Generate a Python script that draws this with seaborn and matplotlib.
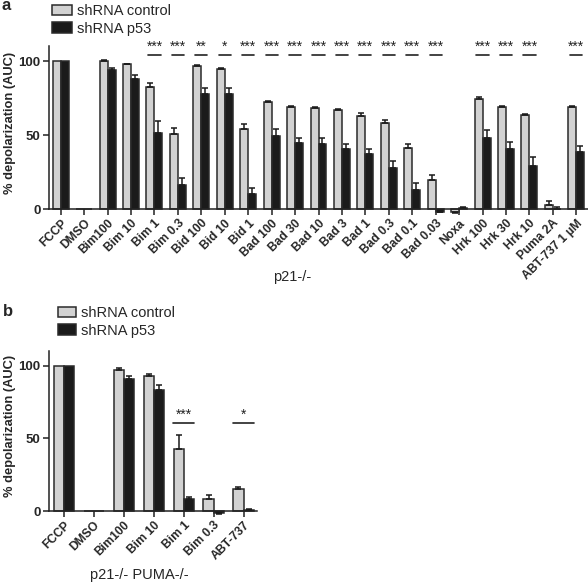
import numpy as np
import pandas as pd
import matplotlib
matplotlib.use("Agg")
import matplotlib.pyplot as plt
from matplotlib.patches import Patch
import seaborn as sns

# ---------------- data: panel a (p21-/-) ----------------
categories_a = ["FCCP", "DMSO", "Bim100", "Bim 10", "Bim 1", "Bim 0.3", "Bid 100", "Bid 10",
                "Bid 1", "Bad 100", "Bad 30", "Bad 10", "Bad 3", "Bad 1", "Bad 0.3", "Bad 0.1",
                "Bad 0.03", "Noxa", "Hrk 100", "Hrk 30", "Hrk 10", "Puma 2A", "ABT-737 1 µM"]
control_a = [100, 0, 100, 97.7, 82.7, 50.7, 96.4, 94.4, 53.8, 72.5, 68.7, 68.0, 66.7, 63.1,
             58.3, 41.0, 19.6, -1.8, 74.5, 68.7, 63.3, 2.7, 68.7]
control_err_a = [0, 0, 0.6, 0.6, 2.7, 4.0, 0.6, 0.6, 3.6, 0.7, 0.8, 0.7, 1.1, 1.8,
                 1.6, 3.1, 3.6, 0.6, 1.2, 1.1, 0.9, 2.9, 1.1]
p53_a = [100, 0, 93.9, 87.8, 51.1, 16.0, 77.7, 77.7, 9.9, 49.5, 44.6, 44.1, 40.5, 36.9,
         27.5, 13.1, -1.8, 0.8, 48.2, 40.5, 29.0, 0.3, 38.3]
p53_err_a = [0, 0, 1.6, 2.5, 8.1, 4.7, 3.8, 4.3, 4.5, 4.5, 3.6, 4.1, 3.2, 3.6,
             5.2, 4.2, 0.4, 0.3, 5.0, 5.0, 5.9, 0.8, 4.5]
sig_a = ["", "", "", "", "***", "***", "**", "*", "***", "***", "***", "***", "***", "***",
         "***", "***", "***", "", "***", "***", "***", "", "***"]

# ---------------- data: panel b (p21-/- PUMA-/-) ----------------
categories_b = ["FCCP", "DMSO", "Bim100", "Bim 10", "Bim 1", "Bim 0.3", "ABT-737"]
control_b = [100, 0, 96.8, 93.1, 42.7, 8.5, 14.9]
control_err_b = [0, 0, 1.4, 1.4, 9.6, 2.7, 1.6]
p53_b = [100, 0, 90.8, 83.5, 8.3, -1.6, 0.6]
p53_err_b = [0, 0, 2.3, 3.4, 1.6, 0.2, 0.6]
sig_b = ["", "", "", "", "***", "", "*"]

groups = ["shRNA control", "shRNA p53"]
colors = ["#d2d2d2", "#1b1b1b"]

sns.set_style("ticks")
plt.rcParams["font.family"] = ["Liberation Sans", "DejaVu Sans"]

W, H = 588, 584
fig = plt.figure(figsize=(W / 100, H / 100), dpi=100)


def make_df(cats, ctrl, p53):
    return pd.DataFrame({
        "cat": list(cats) * 2,
        "val": list(ctrl) + list(p53),
        "grp": [groups[0]] * len(cats) + [groups[1]] * len(cats),
    })


def panel(rect, cats, ctrl, cerr, p53, perr, sig, xlim, xlabel, label_xy, ylabel_x,
          sig_line_y, sig_half, sig_text_y):
    ax = fig.add_axes(rect)
    df = make_df(cats, ctrl, p53)
    sns.barplot(data=df, x="cat", y="val", hue="grp", hue_order=groups,
                palette=colors, order=cats, width=0.68, errorbar=None,
                edgecolor="#2a2a2a", linewidth=1.1, legend=False, ax=ax)
    # error bars (away from zero only, Prism style)
    for cont, vals, errs in zip(ax.containers, [ctrl, p53], [cerr, perr]):
        xs = np.array([b.get_x() + b.get_width() / 2 for b in cont])
        vals = np.asarray(vals, float)
        errs = np.asarray(errs, float)
        up = np.where(vals >= 0, errs, 0)
        dn = np.where(vals < 0, errs, 0)
        mask = errs > 0
        ax.errorbar(xs[mask], vals[mask], yerr=[dn[mask], up[mask]],
                    fmt="none", ecolor="#1a1a1a", elinewidth=1.1, capsize=2.5,
                    capthick=1.1, zorder=1)
    # significance
    for i, s in enumerate(sig):
        if s:
            ax.plot([i - sig_half, i + sig_half], [sig_line_y, sig_line_y],
                    color="#222222", lw=1.2, clip_on=False)
            ax.text(i, sig_text_y, s, ha="center", va="center", fontsize=10,
                    color="#222222", clip_on=False)
    ax.set_xlim(*xlim)
    ax.set_ylim(-5, 110)
    ax.set_yticks([0, 50, 100])
    ax.set_yticklabels(["0", "50", "100"], fontweight="bold", fontsize=9.5)
    ax.spines["top"].set_visible(False)
    ax.spines["right"].set_visible(False)
    ax.spines["bottom"].set_position(("data", 0))
    ax.spines["left"].set_bounds(0, 110)
    for sp in ("left", "bottom"):
        ax.spines[sp].set_linewidth(1.1)
        ax.spines[sp].set_color("#222222")
    ax.tick_params(axis="both", length=4, width=1.1, color="#222222", pad=2)
    ax.set_xticks(range(len(cats)))
    ax.set_xticklabels(cats, rotation=45, ha="right", rotation_mode="anchor",
                       fontweight="bold", fontsize=8.7)
    ax.set_ylabel("% depolarization (AUC)", fontweight="bold", fontsize=9.3)
    ax.yaxis.label.set_va("center")
    ax.yaxis.set_label_coords(ylabel_x, 0.55)
    ax.set_xlabel(xlabel, fontsize=10.5)
    ax.xaxis.label.set_va("center")
    ax.xaxis.set_label_coords(*label_xy)
    return ax


# panel a geometry (pixels)
ax_a = panel([49 / W, 1 - 216.4 / H, 539 / W, 170.2 / H], categories_a,
             control_a, control_err_a, p53_a, p53_err_a, sig_a,
             (-0.5, 22.5), "p21-/-", (0.451, -(277 - 216.4) / 170.2), -(49 - 10) / 539,
             104, 0.26, 109.6)

ax_b = panel([49 / W, 1 - 518.3 / H, 208 / W, 167.1 / H], categories_b,
             control_b, control_err_b, p53_b, p53_err_b, sig_b,
             (-0.5, 6.45), "p21-/- PUMA-/-", (0.433, -(575 - 518.3) / 167.1), -(49 - 10) / 208,
             60.8, 0.35, 66.3)

handles = [Patch(facecolor=c, edgecolor="#2a2a2a", linewidth=1.1) for c in colors]
fig.legend(handles, groups, loc="upper left", bbox_to_anchor=(52 / W, 1 - 4 / H),
           frameon=False, fontsize=10.5, handlelength=1.35, handleheight=0.75,
           labelspacing=0.25, handletextpad=0.35, borderpad=0, borderaxespad=0)
fig.legend(handles, groups, loc="upper left", bbox_to_anchor=(58 / W, 1 - 306 / H),
           frameon=False, fontsize=10.5, handlelength=1.25, handleheight=0.75,
           labelspacing=0.25, handletextpad=0.35, borderpad=0, borderaxespad=0)

fig.text(2 / W, 1 - 6 / H, "a", fontsize=12, fontweight="bold", va="center", ha="left")
fig.text(3 / W, 1 - 311 / H, "b", fontsize=12, fontweight="bold", va="center", ha="left")

fig.savefig("out.png", dpi=100)
